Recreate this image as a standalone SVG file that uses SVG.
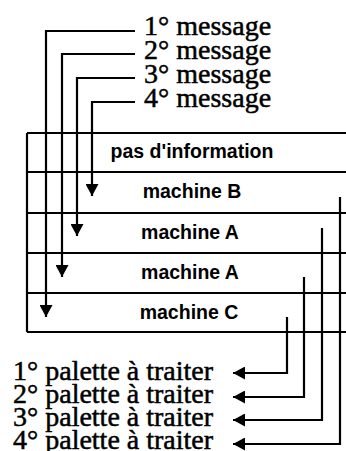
<svg xmlns="http://www.w3.org/2000/svg" width="346" height="451" viewBox="0 0 346 451">
<style>
.ln{fill:none;stroke:#000;stroke-width:2.2}
.ser{font-family:"Liberation Serif","Times New Roman",serif;font-size:28px;fill:#000;stroke:#000;stroke-width:0.5}
.san{font-family:"Liberation Sans",Arial,sans-serif;font-size:19.5px;font-weight:bold;fill:#000;text-anchor:middle}
</style>
<defs>
<marker id="ah" markerUnits="userSpaceOnUse" markerWidth="13" markerHeight="13" refX="12" refY="6.5" orient="auto">
<path d="M0,0 L12,6.5 L0,13 z" fill="#000"/>
</marker>
</defs>
<g id="table">
<path class="ln" d="M27,133 H346 M27,172 H346 M27,213 H346 M27,253 H346 M27,293 H346 M27,332 H346 M27,133 V332"/>
</g>
<g id="row-pas"><text class="san" x="192" y="158">pas d'information</text></g>
<g id="row-b"><text class="san" x="192" y="198">machine B</text></g>
<g id="row-a1"><text class="san" x="190" y="239">machine A</text></g>
<g id="row-a2"><text class="san" x="190" y="279">machine A</text></g>
<g id="row-c"><text class="san" x="189" y="319">machine C</text></g>
<g id="messages">
<text class="ser" x="144" y="35">1° message</text>
<text class="ser" x="144" y="59">2° message</text>
<text class="ser" x="144" y="83">3° message</text>
<text class="ser" x="144" y="107">4° message</text>
</g>
<g id="palettes">
<text class="ser" x="13" y="380">1° palette à traiter</text>
<text class="ser" x="13" y="403">2° palette à traiter</text>
<text class="ser" x="13" y="426">3° palette à traiter</text>
<text class="ser" x="13" y="449">4° palette à traiter</text>
</g>
<g id="connectors">
<path class="ln" d="M135,31 H46 V317" marker-end="url(#ah)"/>
<path class="ln" d="M135,54 H62 V277" marker-end="url(#ah)"/>
<path class="ln" d="M135,78 H77 V236" marker-end="url(#ah)"/>
<path class="ln" d="M135,102 H92 V196" marker-end="url(#ah)"/>
<path class="ln" d="M287,317 V373 H233" marker-end="url(#ah)"/>
<path class="ln" d="M304,277 V397 H233" marker-end="url(#ah)"/>
<path class="ln" d="M322,228 V420 H233" marker-end="url(#ah)"/>
<path class="ln" d="M340,197 V444 H233" marker-end="url(#ah)"/>
</g>
</svg>
